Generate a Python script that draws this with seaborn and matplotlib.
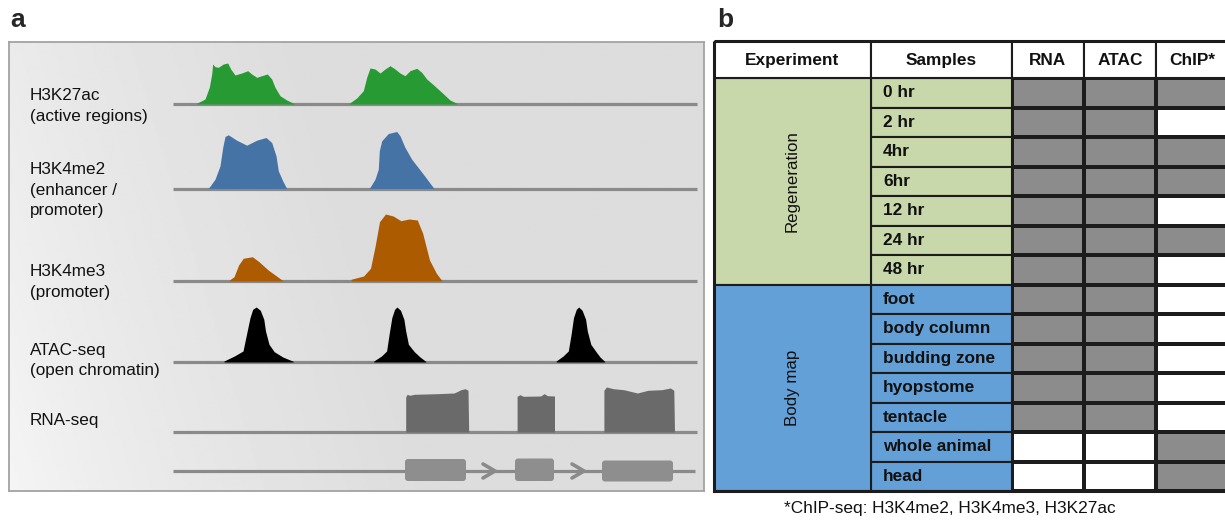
import numpy as np
import pandas as pd
import matplotlib
matplotlib.use("Agg")
import matplotlib.pyplot as plt
import seaborn as sns
from matplotlib.colors import ListedColormap
from matplotlib.patches import Rectangle, FancyBboxPatch

sns.set_theme(style="white")
plt.rcParams["font.family"] = ["Liberation Sans", "DejaVu Sans"]

# ---------------- panel a : signal profiles (position, height)
k27_pos_1 = [196.7, 205, 209.3, 211.7, 212.7, 215, 218.3, 223.3, 227.7, 230.7, 235, 241.7,
             247.7, 251.7, 256.7, 261.7, 267.3, 271.7, 275, 280, 286.7, 295]
k27_h_1 = [0.7, 5, 16.7, 30, 40, 37.3, 36.7, 40, 41, 35, 29, 31,
           33.3, 30, 26.7, 28.3, 30, 25, 16.7, 8.3, 4, 0]
k27_pos_2 = [349.3, 356.7, 363.3, 366.7, 370, 375, 380, 385, 390, 395, 400, 405,
             410, 416.7, 421.7, 426.7, 433.3, 441.7, 450, 456.7]
k27_h_2 = [0.7, 6, 13.3, 26.7, 36, 35, 31, 35, 38.3, 35, 31, 28.3,
           33.3, 35.7, 31.7, 25, 19.3, 11.7, 4, 0.7]

me2_pos_1 = [208.3, 215, 220, 222.7, 225, 228.3, 236.7, 246.7, 256.7, 266, 271.7, 276, 278.3, 282.7, 286.7]
me2_h_1 = [0, 9.3, 22.7, 41, 52, 53.7, 48.3, 43.3, 48.3, 51, 46, 32.7, 17.7, 7.7, 0]
me2_pos_2 = [369.3, 375, 378.3, 379.3, 381.7, 388.3, 396.7, 400, 405, 411.7, 423.3, 434]
me2_h_2 = [0, 9.3, 19.3, 37.7, 47.7, 55, 57, 52.7, 41, 29.3, 14.3, 0]

me3_pos_1 = [229.5, 234, 238.6, 243.2, 252.3, 259, 268.2, 282.7]
me3_h_1 = [1, 4.3, 16, 22.7, 24.3, 19.3, 11, 0.5]
me3_pos_2 = [351, 363.6, 370.5, 375, 379.5, 385.5, 393.2, 400.9, 409, 417.3, 422.7, 429.5, 436.4, 441.8]
me3_h_2 = [1.7, 5, 12.7, 34.3, 59.3, 67, 65, 60.3, 62, 61, 47.7, 21, 7.7, 0.5]

atac_h = [1, 6, 11, 27.7, 44.3, 52.7, 55, 51.7, 42.7, 31, 17.7, 10.3, 5, 0.7]
atac_pos_1 = [224.0, 234.4, 243.0, 246.5, 250.0, 252.7, 256.2, 260.3, 263.8, 265.5, 269.0, 274.2, 282.8, 293.2]
atac_pos_2 = [373.8, 381.5, 386.6, 389.1, 391.8, 394.6, 397.0, 400.5, 403.9, 405.7, 408.4, 414.3, 420.0, 425.7]
atac_pos_3 = [556.2, 563.1, 568.3, 571.1, 573.5, 576.3, 578.7, 582.1, 585.6, 587.3, 590.8, 596.0, 600.0, 604.6]

rna_pos_1 = [405.7, 405.7, 407.1, 409.8, 414.3, 436.8, 454.1, 461.0, 465.2, 468.0, 468.7]
rna_h_1 = [0, 35, 37.7, 36.7, 37.7, 38.3, 39, 42.3, 43.3, 41.7, 0]
rna_pos_2 = [517.1, 517.1, 519.9, 523.3, 540.6, 544.1, 547.5, 554.5, 554.5]
rna_h_2 = [0, 35.7, 37.3, 35.7, 36, 38.3, 36.3, 36, 0]
rna_pos_3 = [603.9, 603.9, 606.4, 613.3, 623.7, 637.5, 647.9, 661.7, 670.4, 673.8, 674.5]
rna_h_3 = [0, 41.7, 45, 43.3, 42.3, 39, 41.7, 42.3, 44, 41.7, 0]

# gene model: exon start, end, top, bottom ; intron arrows at
exon_start = [405, 515, 602]
exon_end = [466, 554, 673]
exon_top = [459, 458.5, 460.5]
exon_bottom = [481, 481, 481.5]
arrow_x = [483, 572]

track_names = ["H3K27ac", "H3K4me2", "H3K4me3", "ATAC-seq", "RNA-seq"]
track_sub = [["(active regions)"], ["(enhancer /", "promoter)"], ["(promoter)"],
             ["(open chromatin)"], []]
track_base = [104, 188.5, 281, 362, 432]
label_base = [100, 174, 276, 355, 425]
gene_base = 471
track_colors = ["#289a33", "#4673a6", "#ad5b00", "#000000", "#6a6a6a"]
track_peaks = [
    [(k27_pos_1, k27_h_1), (k27_pos_2, k27_h_2)],
    [(me2_pos_1, me2_h_1), (me2_pos_2, me2_h_2)],
    [(me3_pos_1, me3_h_1), (me3_pos_2, me3_h_2)],
    [(atac_pos_1, atac_h), (atac_pos_2, atac_h), (atac_pos_3, atac_h)],
    [(rna_pos_1, rna_h_1), (rna_pos_2, rna_h_2), (rna_pos_3, rna_h_3)],
]

# ---------------- panel b : sample table
samples = ["0 hr", "2 hr", "4hr", "6hr", "12 hr", "24 hr", "48 hr",
           "foot", "body column", "budding zone", "hyopstome", "tentacle", "whole animal", "head"]
experiment = ["Regeneration"] * 7 + ["Body map"] * 7
rna = [1, 1, 1, 1, 1, 1, 1, 1, 1, 1, 1, 1, 0, 0]
atac = [1, 1, 1, 1, 1, 1, 1, 1, 1, 1, 1, 1, 0, 0]
chip = [1, 0, 1, 1, 0, 1, 0, 0, 0, 0, 0, 0, 1, 1]
assays = ["RNA", "ATAC", "ChIP*"]
exp_colors = {"Regeneration": "#c9d8aa", "Body map": "#64a0d8"}

W, H = 1225, 521
fig = plt.figure(figsize=(W / 100, H / 100), dpi=100)


def px_axes(x0, y0, x1, y1):
    return fig.add_axes([x0 / W, 1 - y1 / H, (x1 - x0) / W, (y1 - y0) / H])


# ---- panel a
ax = px_axes(9, 42, 704, 491)
gx, gy = np.meshgrid(np.linspace(9, 704, 500), np.linspace(42, 491, 250))
v = np.clip((gx - 9 - 0.3 * (gy - 491)) / 420, 0, 1)
ax.imshow(0.965 - 0.1 * v ** 0.7, extent=(9, 704, 491, 42), cmap="gray",
          vmin=0, vmax=1, aspect="auto", zorder=0, interpolation="bilinear")
ax.set_xlim(9, 704)
ax.set_ylim(491, 42)
ax.set_xticks([])
ax.set_yticks([])
for sp in ax.spines.values():
    sp.set_visible(True)
    sp.set_color("#a3a3a3")
    sp.set_linewidth(1.3)

line_c = "#8a8a8a"
for name, subs, base, lb, col, peaks in zip(track_names, track_sub, track_base, label_base,
                                             track_colors, track_peaks):
    ax.hlines(base, 173, 697, color=line_c, lw=2.3, zorder=2)
    for pos, h in peaks:
        ax.fill_between(pos, base, base - np.array(h), color=col, lw=0, zorder=3)
    ax.text(30, lb, name, fontsize=12.3, va="baseline", ha="left", color="#111111")
    for j, s in enumerate(subs):
        ax.text(30, lb + 20.5 * (j + 1), s, fontsize=12.3, va="baseline", ha="left", color="#111111")

ax.hlines(gene_base, 173, 695, color=line_c, lw=2.3, zorder=2)
for x0, x1, t, b in zip(exon_start, exon_end, exon_top, exon_bottom):
    ax.add_patch(FancyBboxPatch((x0, t), x1 - x0, b - t, boxstyle="round,pad=0,rounding_size=3",
                                fc="#8e8e8e", ec="none", zorder=3))
for xa in arrow_x:
    ax.plot([xa, xa + 12, xa], [gene_base - 7, gene_base, gene_base + 7], color=line_c,
            lw=2.6, solid_capstyle="round", solid_joinstyle="miter", zorder=3)

# ---- panel b
col_w = 72.0
exp_w = 157 / col_w
samp_w = 141 / col_w
row_h = 29.5
hdr_h = 37 / row_h
axb = px_axes(714, 41, 714 + (exp_w + samp_w + 3) * col_w, 491)
tbl = pd.DataFrame({"RNA": rna, "ATAC": atac, "ChIP*": chip}, index=samples)
edge = "#1c1c1c"
sns.heatmap(tbl, ax=axb, cmap=ListedColormap(["white", "#8c8c8c"]), vmin=0, vmax=1,
            cbar=False, linewidths=1.5, linecolor=edge, xticklabels=False, yticklabels=False)
axb.set_xlim(-exp_w - samp_w, 3)
axb.set_ylim(len(samples), -hdr_h)
axb.set_xticks([])
axb.set_yticks([])
for sp in axb.spines.values():
    sp.set_visible(False)

for i, (s, e) in enumerate(zip(samples, experiment)):
    axb.add_patch(Rectangle((-samp_w, i), samp_w, 1, fc=exp_colors[e], ec=edge, lw=1.5))
    axb.text(-samp_w + 12 / col_w, i + 0.5, s, fontsize=12.4, fontweight="bold",
             ha="left", va="center", color="#111111")

groups = list(dict.fromkeys(experiment))
for g in groups:
    idx = [i for i, e in enumerate(experiment) if e == g]
    axb.add_patch(Rectangle((-exp_w - samp_w, idx[0]), exp_w, len(idx), fc=exp_colors[g],
                            ec=edge, lw=1.5))
    axb.text(-samp_w - exp_w / 2, idx[0] + len(idx) / 2, g, rotation=90, fontsize=12.2,
             ha="center", va="center", color="#111111")

headers = ["Experiment", "Samples"] + assays
hx = [-exp_w - samp_w, -samp_w, 0, 1, 2]
hw = [exp_w, samp_w, 1, 1, 1]
for t, x0, w in zip(headers, hx, hw):
    axb.add_patch(Rectangle((x0, -hdr_h), w, hdr_h, fc="white", ec=edge, lw=1.5))
    axb.text(x0 + w / 2, -hdr_h / 2 + 0.03, t, fontsize=12.4, fontweight="bold",
             ha="center", va="center", color="#111111")

axb.add_patch(Rectangle((-exp_w - samp_w, -hdr_h), exp_w + samp_w + 3, len(samples) + hdr_h,
                        fc="none", ec=edge, lw=2.2, clip_on=False, zorder=5))

# ---- panel letters and footnote
fig.text(10 / W, 1 - 27 / H, "a", fontsize=19, fontweight="bold", va="baseline", ha="left")
fig.text(717 / W, 1 - 27 / H, "b", fontsize=19, fontweight="bold", va="baseline", ha="left")
fig.text(950 / W, 1 - 509 / H, "*ChIP-seq: H3K4me2, H3K4me3, H3K27ac", fontsize=12.4,
         ha="center", va="center", color="#111111")

fig.savefig("out.png", dpi=100)
